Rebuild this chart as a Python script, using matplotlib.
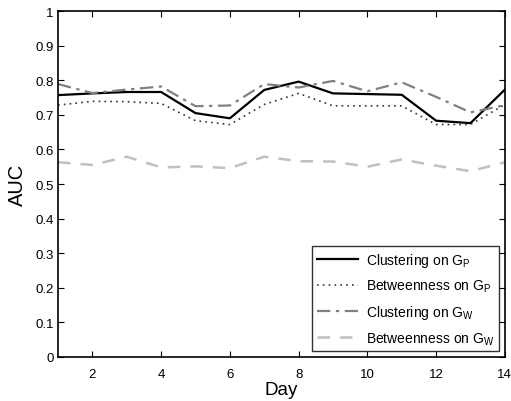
import matplotlib
matplotlib.use("Agg")
import matplotlib.pyplot as plt

plt.rcParams['font.family'] = ['Liberation Sans', 'DejaVu Sans']
plt.rcParams['mathtext.default'] = 'regular'

days = list(range(1, 15))
clust_gp = [0.757, 0.762, 0.766, 0.766, 0.705, 0.690, 0.772, 0.796, 0.762, 0.760, 0.758, 0.683, 0.676, 0.773]
betw_gp = [0.728, 0.739, 0.738, 0.733, 0.683, 0.672, 0.730, 0.762, 0.726, 0.726, 0.726, 0.672, 0.672, 0.730]
clust_gw = [0.789, 0.763, 0.773, 0.782, 0.725, 0.727, 0.789, 0.779, 0.798, 0.768, 0.794, 0.752, 0.707, 0.728]
betw_gw = [0.563, 0.555, 0.579, 0.548, 0.551, 0.546, 0.579, 0.566, 0.565, 0.550, 0.571, 0.553, 0.537, 0.563]

fig = plt.figure(figsize=(5.11, 4.02), dpi=100)
ax = fig.add_axes([0.1135, 0.1095, 0.8745, 0.8605])

ax.plot(days, clust_gp, color='black', lw=1.6, ls='-', label='Clustering on G$_P$')
ax.plot(days, betw_gp, color='#333333', lw=1.2, ls=(0, (1, 2.5)), label='Betweenness on G$_P$')
ax.plot(days, clust_gw, color='#808080', lw=1.6, ls=(0, (6, 2.5, 1.5, 2.5)), label='Clustering on G$_W$')
ax.plot(days, betw_gw, color='#c0c0c0', lw=1.8, ls=(0, (5, 4)), label='Betweenness on G$_W$')

ax.set_xlim(1, 14)
ax.set_ylim(0, 1)
ax.set_xticks([2, 4, 6, 8, 10, 12, 14])
ax.set_yticks([i / 10 for i in range(11)])
ax.set_yticklabels(['0', '0.1', '0.2', '0.3', '0.4', '0.5', '0.6', '0.7', '0.8', '0.9', '1'])
ax.tick_params(direction='in', top=True, right=True, labelsize=9.5, length=4, width=0.8)
ax.tick_params(axis='x', pad=8)
ax.tick_params(axis='y', pad=3)
for s in ax.spines.values():
    s.set_linewidth(1.2)

ax.set_xlabel('Day', fontsize=13.5, labelpad=1)
ax.set_ylabel('AUC', fontsize=14.5, labelpad=6)

leg = ax.legend(loc='lower right', fontsize=10, frameon=True, fancybox=False,
                edgecolor='black', handlelength=2.9, handletextpad=0.6,
                borderaxespad=0.4, labelspacing=0.65, borderpad=0.35)
leg.get_frame().set_linewidth(1.0)

fig.savefig('out.png', dpi=100)
